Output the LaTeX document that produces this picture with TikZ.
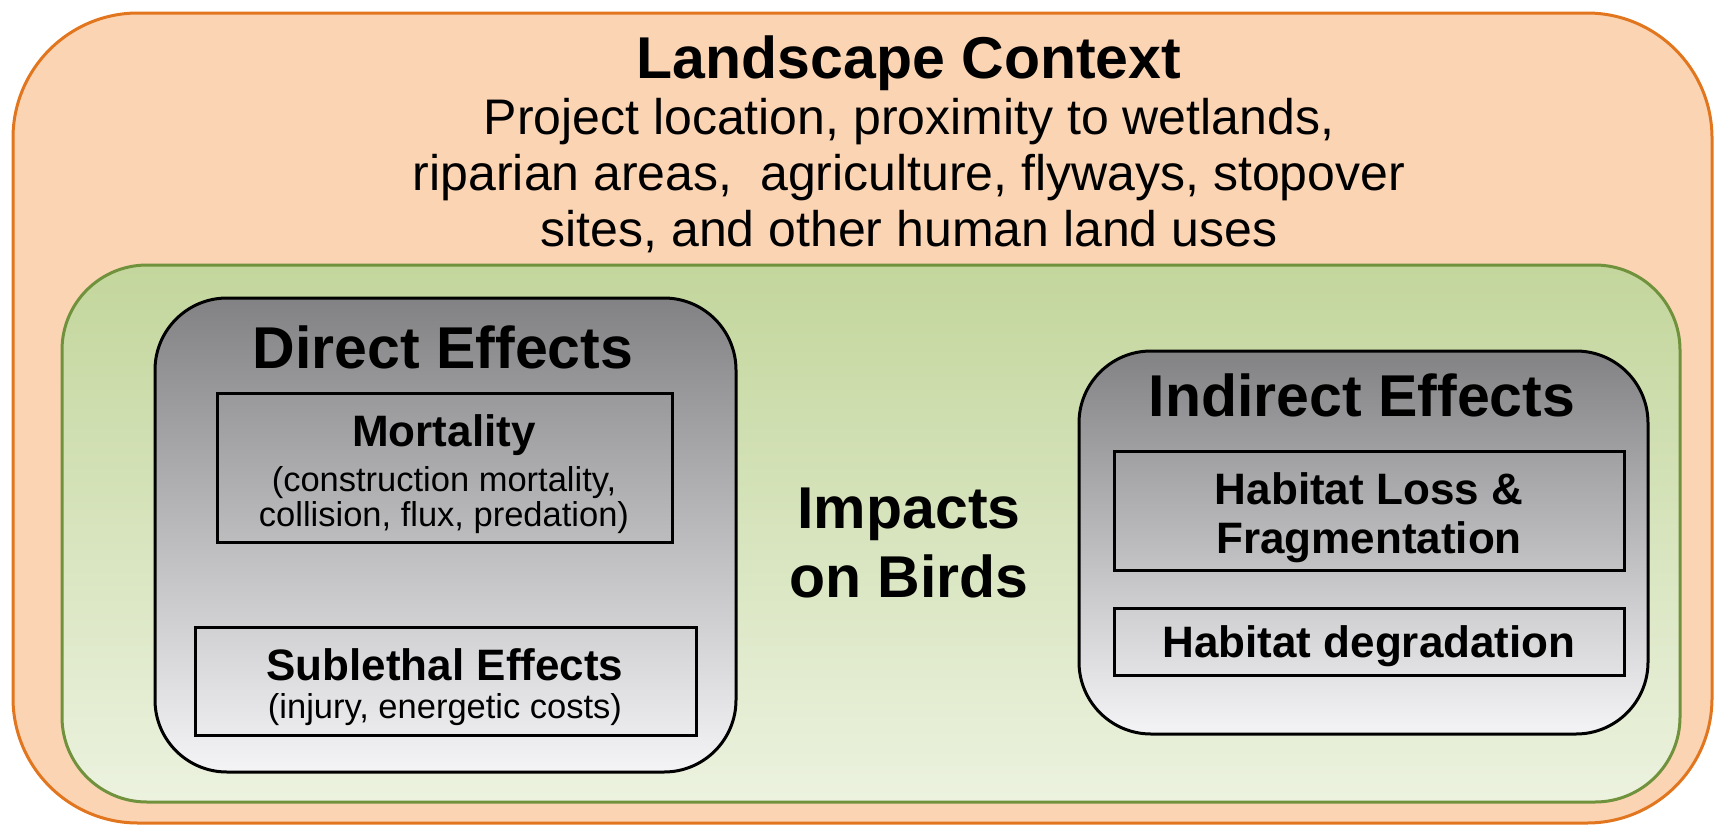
\documentclass[tikz,border=0pt]{standalone}
\usepackage{fontspec}
\setmainfont{Liberation Sans}
\usetikzlibrary{shadings}
\definecolor{orfill}{RGB}{251,212,180}
\definecolor{ordraw}{RGB}{226,118,30}
\definecolor{grtop}{RGB}{195,214,156}
\definecolor{grbot}{RGB}{236,242,223}
\definecolor{grdraw}{RGB}{112,146,60}
\definecolor{gytop}{RGB}{130,130,132}
\definecolor{gybot}{RGB}{244,244,246}
\begin{document}
\begin{tikzpicture}[x=1pt,y=-1pt,
  box/.style={rectangle, anchor=north west, inner sep=0pt, outer sep=0pt},
  landbox/.style={box, draw=ordraw, fill=orfill, line width=3pt, rounded corners=125pt},
  greenbox/.style={box, draw=grdraw, top color=grtop, bottom color=grbot, line width=3pt, rounded corners=85pt},
  effbox/.style={box, draw=black, top color=gytop, bottom color=gybot, line width=3pt, rounded corners=72pt},
  subbox/.style={box, draw=black, line width=3pt},
  lbl/.style={anchor=base, inner sep=0pt, text=black},
  bigtxt/.style={lbl, font=\bfseries\fontsize{59}{67}\selectfont},
  subtxt/.style={lbl, font=\fontsize{50}{56}\selectfont},
  midtxt/.style={lbl, font=\bfseries\fontsize{44}{50}\selectfont},
  smalltxt/.style={lbl, font=\fontsize{34.5}{36}\selectfont}
]
\useasboundingbox (0,0) rectangle (1718,827);
% containers
\node[landbox, minimum width=1699pt, minimum height=810pt] (land) at (13,13) {};
\node[greenbox, minimum width=1618pt, minimum height=537pt] (green) at (62,265) {};
\node[effbox, minimum width=581pt, minimum height=474pt] (direct) at (155,298) {};
\node[effbox, minimum width=569pt, minimum height=383pt] (indirect) at (1079,351) {};
\node[subbox, minimum width=455pt, minimum height=149pt] (mortbox) at (217,393) {};
\node[subbox, minimum width=501pt, minimum height=108pt] (sublbox) at (195,627) {};
\node[subbox, minimum width=510pt, minimum height=119pt] (lossbox) at (1114,451) {};
\node[subbox, minimum width=510pt, minimum height=67pt] (degbox) at (1114,608) {};
% landscape texts
\node[bigtxt] (landtitle) at (909,78) {Landscape Context};
\node[subtxt] (landl1) at (909,134) {Project location, proximity to wetlands,};
\node[subtxt] (landl2) at (909,190) {riparian areas,\ \ agriculture, flyways, stopover};
\node[subtxt] (landl3) at (909,246) {sites, and other human land uses};
% direct effects
\node[bigtxt] (directtitle) at (443,368) {Direct Effects};
\node[midtxt] (morttitle) at (444,446) {Mortality};
\node[smalltxt] (mortl1) at (444,491) {(construction mortality,};
\node[smalltxt] (mortl2) at (444,526) {collision, flux, predation)};
\node[midtxt] (subltitle) at (445,680) {Sublethal Effects};
\node[smalltxt] (subll1) at (445,718) {(injury, energetic costs)};
% centre
\node[bigtxt] (imp1) at (909,528) {Impacts};
\node[bigtxt] (imp2) at (909,597) {on Birds};
% indirect effects
\node[bigtxt] (indtitle) at (1362,416) {Indirect Effects};
\node[midtxt] (lossl1) at (1369,504) {Habitat Loss \&};
\node[midtxt] (lossl2) at (1369,553) {Fragmentation};
\node[midtxt] (degl1) at (1369,657) {Habitat degradation};
\end{tikzpicture}
\end{document}
